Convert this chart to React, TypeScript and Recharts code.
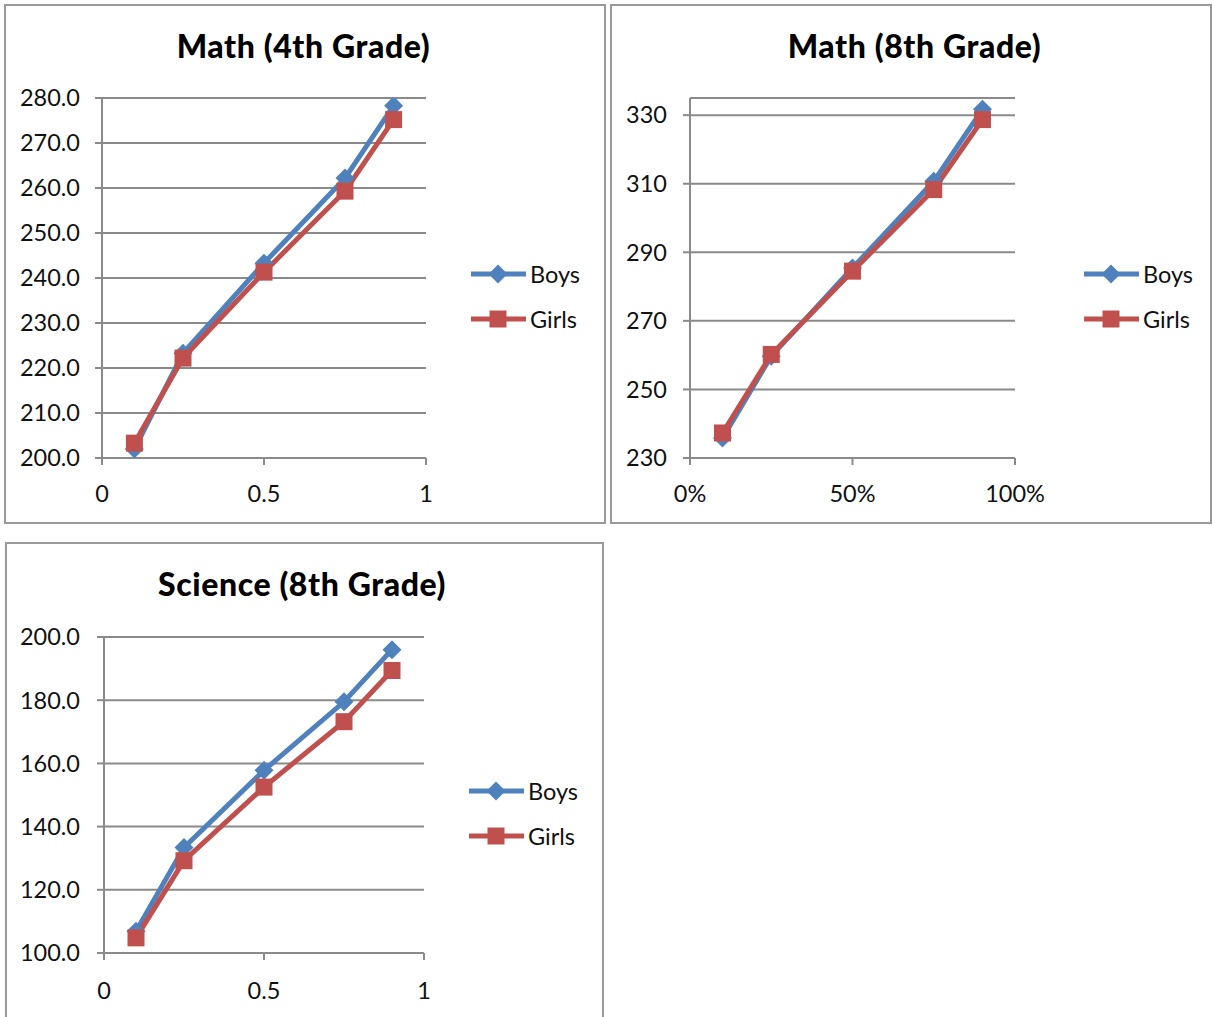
import { LineChart, Line, XAxis, YAxis, CartesianGrid } from "recharts";

// percentiles (x) shared by all three panels
const percentiles = [0.1, 0.25, 0.5, 0.75, 0.9];

const math4Boys = [202.0, 223.3, 243.3, 262.2, 278.3];
const math4Girls = [203.3, 222.2, 241.3, 259.3, 275.2];

const math8Boys = [235.8, 259.7, 285.4, 310.7, 331.7];
const math8Girls = [237.3, 260.2, 284.5, 308.3, 328.7];

const scienceBoys = [106.9, 133.4, 157.8, 179.5, 196.0];
const scienceGirls = [104.8, 129.2, 152.5, 173.2, 189.4];

const math4Ticks = [200, 210, 220, 230, 240, 250, 260, 270, 280];
const math8Ticks = [230, 250, 270, 290, 310, 330];
const scienceTicks = [100, 120, 140, 160, 180, 200];
const xTicks = [0, 0.5, 1];

const BLUE = "#4F81BD";
const RED = "#C0504D";
const GRID = "#8a8a8a";
const FONT = "Lato, 'Open Sans', sans-serif";

function buildRows(boys: number[], girls: number[]) {
  return percentiles.map((p, i) => ({ p, boys: boys[i], girls: girls[i] }));
}

const Diamond = (props: any) => {
  const { cx, cy, index } = props;
  if (cx == null || cy == null) return null;
  const r = 9.5;
  return (
    <polygon
      key={`d-${index}`}
      points={`${cx},${cy - r} ${cx + r},${cy} ${cx},${cy + r} ${cx - r},${cy}`}
      fill={BLUE}
    />
  );
};

const Square = (props: any) => {
  const { cx, cy, index } = props;
  if (cx == null || cy == null) return null;
  const s = 17;
  return <rect key={`s-${index}`} x={cx - s / 2} y={cy - s / 2} width={s} height={s} fill={RED} />;
};

interface PanelProps {
  title: string;
  boys: number[];
  girls: number[];
  yTicks: number[];
  yDomain: [number, number];
  yFormat: (v: number) => string;
  xFormat: (v: number) => string;
  left: number;
  top: number;
  width: number;
  height: number;
  boxHeight: number;
  margin: { top: number; right: number; bottom: number; left: number };
  yWidth: number;
  yTickMargin: number;
  xTickMargin: number;
  titleX: number;
  legendX: number;
  legendY: number;
}

function Panel(p: PanelProps) {
  const data = buildRows(p.boys, p.girls);
  const tickStyle = { fill: "#111", fontSize: 23.5, fontFamily: FONT };
  return (
    <>
      <div
        style={{
          position: "absolute",
          left: p.left,
          top: p.top,
          width: p.width,
          height: p.boxHeight,
          border: "2px solid #9a9a9a",
          boxSizing: "border-box",
        }}
      />
      <div style={{ position: "absolute", left: p.left, top: p.top }}>
        <LineChart width={p.width} height={p.height} data={data} margin={p.margin}>
          <CartesianGrid horizontal vertical={false} stroke={GRID} strokeWidth={2} />
          <XAxis
            type="number"
            dataKey="p"
            domain={[0, 1]}
            ticks={xTicks}
            tickFormatter={p.xFormat}
            height={40}
            tick={tickStyle}
            tickSize={7}
            tickMargin={p.xTickMargin}
            axisLine={{ stroke: GRID, strokeWidth: 2 }}
            tickLine={{ stroke: GRID, strokeWidth: 2 }}
          />
          <YAxis
            type="number"
            domain={p.yDomain}
            ticks={p.yTicks}
            tickFormatter={p.yFormat}
            width={p.yWidth}
            tick={tickStyle}
            tickSize={7}
            tickMargin={p.yTickMargin}
            axisLine={{ stroke: GRID, strokeWidth: 2 }}
            tickLine={{ stroke: GRID, strokeWidth: 2 }}
            allowDataOverflow
          />
          <Line
            type="linear"
            dataKey="boys"
            name="Boys"
            stroke={BLUE}
            strokeWidth={5}
            dot={Diamond}
            activeDot={false}
            isAnimationActive={false}
          />
          <Line
            type="linear"
            dataKey="girls"
            name="Girls"
            stroke={RED}
            strokeWidth={5}
            dot={Square}
            activeDot={false}
            isAnimationActive={false}
          />
        </LineChart>
      </div>
      <svg
        width={p.width}
        height={p.height}
        style={{ position: "absolute", left: p.left, top: p.top, pointerEvents: "none" }}
      >
        <text
          x={p.titleX}
          y={54}
          textAnchor="middle"
          fontFamily={FONT}
          fontWeight={900}
          fontSize={32}
          letterSpacing={0.6}
          fill="#000"
        >
          {p.title}
        </text>
        {/* legend */}
        <line x1={p.legendX} x2={p.legendX + 55} y1={p.legendY} y2={p.legendY} stroke={BLUE} strokeWidth={5} />
        <Diamond cx={p.legendX + 27} cy={p.legendY} index={0} />
        <text x={p.legendX + 59} y={p.legendY + 8.5} fontFamily={FONT} fontSize={23.5} fill="#111">
          Boys
        </text>
        <line
          x1={p.legendX}
          x2={p.legendX + 55}
          y1={p.legendY + 45}
          y2={p.legendY + 45}
          stroke={RED}
          strokeWidth={5}
        />
        <Square cx={p.legendX + 27} cy={p.legendY + 45} index={1} />
        <text x={p.legendX + 59} y={p.legendY + 53.5} fontFamily={FONT} fontSize={23.5} fill="#111">
          Girls
        </text>
      </svg>
    </>
  );
}

const oneDecimal = (v: number) => v.toFixed(1);
const plain = (v: number) => String(v);
const percent = (v: number) => `${Math.round(v * 100)}%`;

export default function App() {
  return (
    <div
      style={{
        position: "absolute",
        left: 0,
        top: 0,
        width: 1212,
        height: 1017,
        overflow: "hidden",
        background: "#fff",
        fontFamily: FONT,
      }}
    >
      <Panel
        title="Math (4th Grade)"
        boys={math4Boys}
        girls={math4Girls}
        yTicks={math4Ticks}
        yDomain={[200, 280]}
        yFormat={oneDecimal}
        xFormat={plain}
        left={4}
        top={4}
        width={602}
        height={520}
        boxHeight={520}
        margin={{ top: 94, right: 180, bottom: 26, left: 8 }}
        yWidth={90}
        yTickMargin={15}
        xTickMargin={20}
        titleX={299.5}
        legendX={467}
        legendY={270}
      />
      <Panel
        title="Math (8th Grade)"
        boys={math8Boys}
        girls={math8Girls}
        yTicks={math8Ticks}
        yDomain={[230, 335]}
        yFormat={plain}
        xFormat={percent}
        left={610}
        top={4}
        width={602}
        height={520}
        boxHeight={520}
        margin={{ top: 94, right: 197, bottom: 26, left: 8 }}
        yWidth={72}
        yTickMargin={16}
        xTickMargin={20}
        titleX={304.5}
        legendX={474}
        legendY={270}
      />
      <Panel
        title="Science (8th Grade)"
        boys={scienceBoys}
        girls={scienceGirls}
        yTicks={scienceTicks}
        yDomain={[100, 200]}
        yFormat={oneDecimal}
        xFormat={plain}
        left={5}
        top={542}
        width={599}
        height={475}
        boxHeight={490}
        margin={{ top: 95, right: 180, bottom: 24, left: 9 }}
        yWidth={90}
        yTickMargin={17}
        xTickMargin={22}
        titleX={297}
        legendX={464}
        legendY={249}
      />
    </div>
  );
}
